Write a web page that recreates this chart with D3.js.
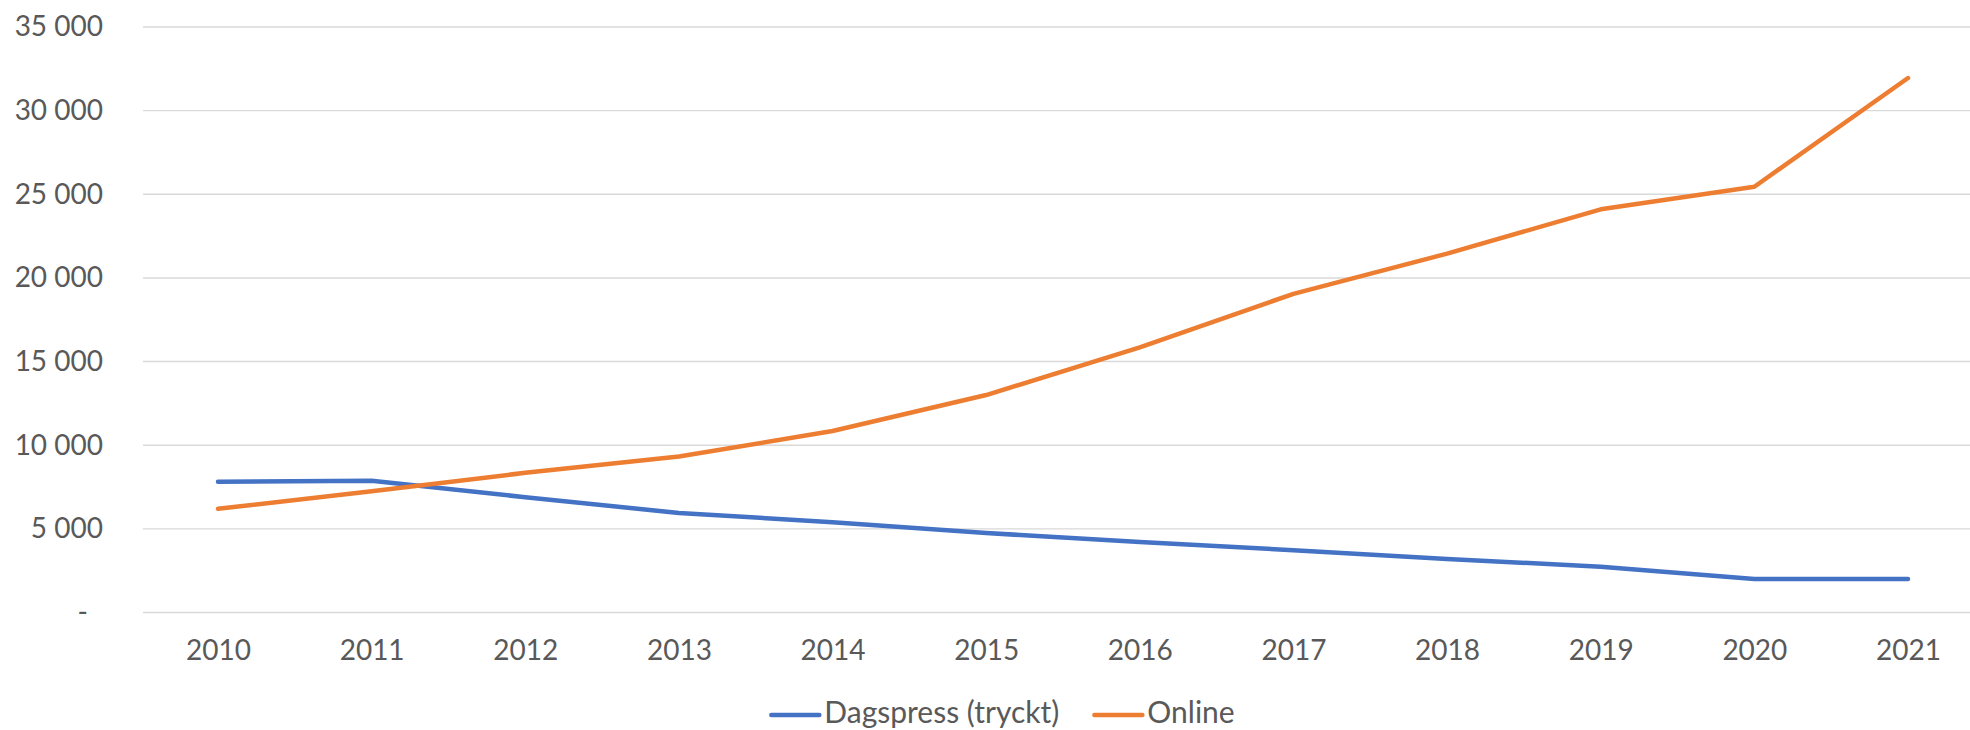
<!DOCTYPE html>
<html>
<head>
<meta charset="utf-8">
<script src="https://cdn.jsdelivr.net/npm/d3@7"></script>
<style>
  html, body { margin: 0; padding: 0; background: #fff; }
  svg { display: block; }
  text { font-family: Lato, "Open Sans", sans-serif; fill: #595959; }
</style>
</head>
<body>
<svg id="chart" width="1970" height="730"></svg>
<script>
const years = ["2010","2011","2012","2013","2014","2015","2016","2017","2018","2019","2020","2021"];
const dagspress = [7820, 7880, 6890, 5950, 5400, 4750, 4220, 3720, 3200, 2740, 2000, 2000];
const online = [6200, 7250, 8350, 9320, 10850, 13000, 15850, 19050, 21450, 24100, 25450, 31950];
const yTicks = [0, 5000, 10000, 15000, 20000, 25000, 30000, 35000];
const seriesNames = ["Dagspress (tryckt)", "Online"];
const seriesColors = ["#4472C4", "#ED7D31"];

const svg = d3.select("#chart");
const plotLeft = 143, plotRight = 1970, plotTop = 27, plotBottom = 612.5;

const x = d3.scalePoint().domain(years).range([218, 1908]);
const y = d3.scaleLinear().domain([0, 35000]).range([plotBottom, plotTop]);

const locale = d3.formatLocale({decimal: ",", thousands: " ", grouping: [3], currency: ["", ""]});
const fmt = locale.format(",d");

// gridlines
svg.append("g").attr("class", "grid")
  .selectAll("line").data(yTicks).join("line")
  .attr("x1", plotLeft).attr("x2", plotRight)
  .attr("y1", d => y(d)).attr("y2", d => y(d))
  .attr("stroke", "#d9d9d9").attr("stroke-width", 1.4);

// y axis labels
const yAxis = d3.axisLeft(y).tickValues(yTicks).tickSize(0).tickPadding(0)
  .tickFormat(d => d === 0 ? "-" : fmt(d));
const gy = svg.append("g").attr("transform", "translate(103,0)").call(yAxis);
gy.select(".domain").remove();
gy.selectAll("text").attr("font-size", 28).attr("fill", "#595959")
  .attr("font-family", "Lato, 'Open Sans', sans-serif")
  .attr("dx", d => d === 0 ? -15 : 0);

// x axis labels
const xAxis = d3.axisBottom(x).tickSize(0).tickPadding(0);
const gx = svg.append("g").attr("transform", "translate(0,640)").call(xAxis);
gx.select(".domain").remove();
gx.selectAll("text").attr("font-size", 28).attr("fill", "#595959")
  .attr("font-family", "Lato, 'Open Sans', sans-serif");

// lines
const data = [dagspress, online];
const line = d3.line().x((d, i) => x(years[i])).y(d => y(d));
svg.append("g").selectAll("path").data(data).join("path")
  .attr("d", d => line(d))
  .attr("fill", "none")
  .attr("stroke", (d, i) => seriesColors[i])
  .attr("stroke-width", 4.5)
  .attr("stroke-linecap", "round")
  .attr("stroke-linejoin", "round");

// legend
const legend = svg.append("g");
const items = legend.selectAll("g").data(seriesNames).join("g");
items.append("line")
  .attr("x1", 0).attr("x2", 48).attr("y1", 0).attr("y2", 0)
  .attr("stroke", (d, i) => seriesColors[i]).attr("stroke-width", 4.5)
  .attr("stroke-linecap", "round");
items.append("text")
  .attr("x", 53).attr("y", 8)
  .attr("font-size", 30)
  .text(d => d);
let cx = 0;
const gap = 35;
items.each(function() {
  const g = d3.select(this);
  g.attr("transform", `translate(${cx},0)`);
  const w = 53 + g.select("text").node().getComputedTextLength();
  cx += w + gap;
});
const totalW = cx - gap;
legend.attr("transform", `translate(${1003 - totalW / 2},715)`);
</script>
</body>
</html>
